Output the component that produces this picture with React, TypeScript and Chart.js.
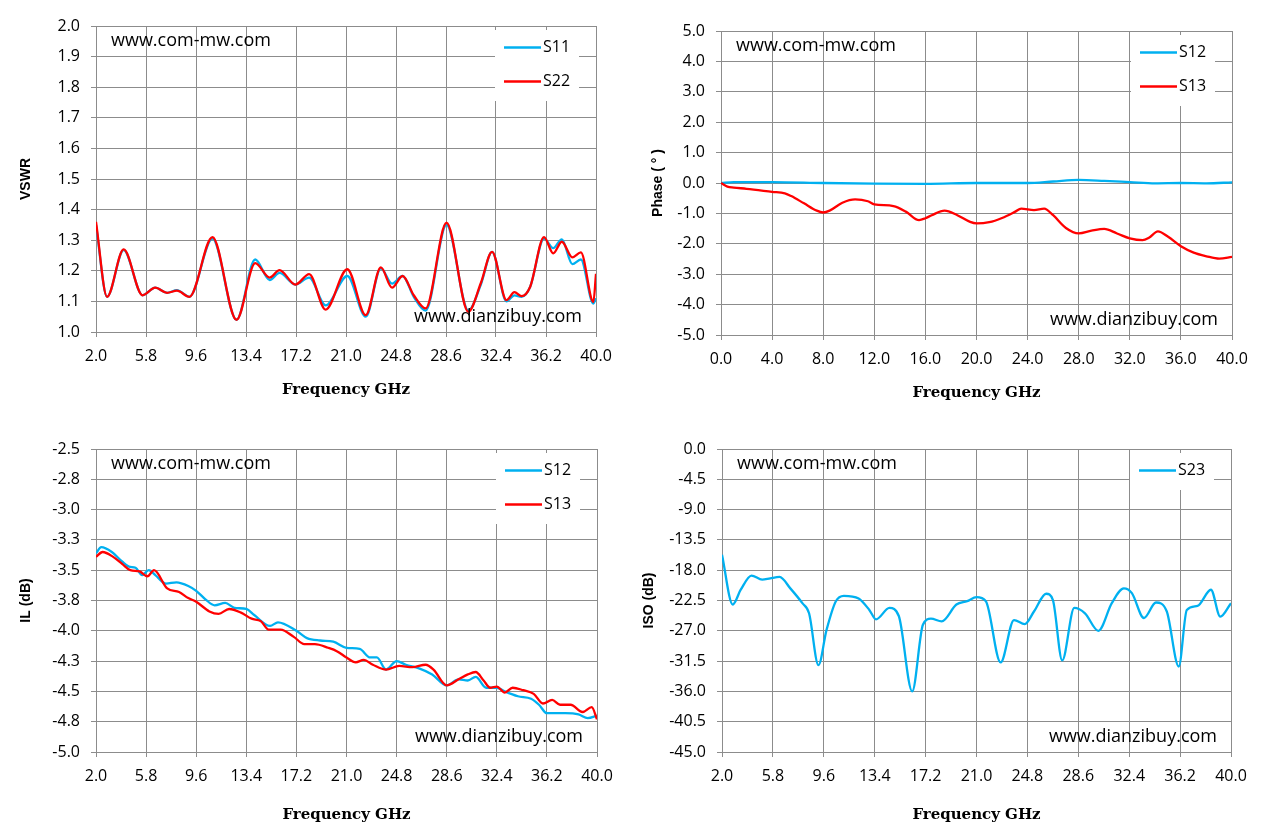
import { useEffect, useRef } from 'react';
import { Chart, registerables, ChartConfiguration, Plugin } from 'chart.js';

Chart.register(...registerables);

// ---- values ----
const FREQ_TICKS = [2.0, 5.8, 9.6, 13.4, 17.2, 21.0, 24.8, 28.6, 32.4, 36.2, 40.0];
const PHASE_FREQ_TICKS = [0, 4, 8, 12, 16, 20, 24, 28, 32, 36, 40];
const VSWR_TICKS = [1.0, 1.1, 1.2, 1.3, 1.4, 1.5, 1.6, 1.7, 1.8, 1.9, 2.0];
const PHASE_TICKS = [-5, -4, -3, -2, -1, 0, 1, 2, 3, 4, 5];
const IL_TICKS = [-5.0, -4.75, -4.5, -4.25, -4.0, -3.75, -3.5, -3.25, -3.0, -2.75, -2.5];
const ISO_TICKS = [-45, -40.5, -36, -31.5, -27, -22.5, -18, -13.5, -9, -4.5, 0];

// VSWR (S11 / S22)
const VSWR_FREQ = [2.0, 2.84, 4.1, 5.54, 6.5, 7.4, 8.15, 9.1, 10.85, 12.68, 14.1, 15.2, 15.95, 17.15, 18.2, 19.45, 21.1, 22.5, 23.65, 24.5, 25.3, 26.15, 27.05, 28.64, 30.3, 31.25, 32.1, 33.2, 33.8, 34.34, 35.0, 36.05, 36.75, 37.4, 38.2, 38.85, 39.8, 40.0];
const VSWR_S11 = [1.35, 1.115, 1.268, 1.12, 1.145, 1.128, 1.137, 1.115, 1.305, 1.04, 1.237, 1.17, 1.193, 1.155, 1.178, 1.087, 1.183, 1.05, 1.208, 1.158, 1.183, 1.115, 1.07, 1.35, 1.07, 1.155, 1.262, 1.1, 1.12, 1.115, 1.148, 1.305, 1.274, 1.303, 1.222, 1.237, 1.093, 1.11];
const VSWR_S22 = [1.36, 1.115, 1.27, 1.12, 1.145, 1.128, 1.135, 1.115, 1.31, 1.04, 1.225, 1.178, 1.202, 1.155, 1.189, 1.073, 1.205, 1.055, 1.211, 1.145, 1.183, 1.12, 1.077, 1.357, 1.066, 1.16, 1.262, 1.104, 1.13, 1.117, 1.148, 1.31, 1.257, 1.295, 1.244, 1.26, 1.098, 1.19];

// Phase (S12 / S13)
const PHASE_S12_FREQ = [0, 1, 4, 8, 12, 16, 20, 24, 26, 28, 30, 32, 34, 36, 38, 40];
const PHASE_S12 = [0, 0.03, 0.03, 0.0, -0.02, -0.03, 0.0, 0.0, 0.05, 0.1, 0.07, 0.03, -0.01, 0.0, -0.01, 0.02];
const PHASE_S13_FREQ = [0, 0.5, 1, 2, 4, 5, 5.5, 6.5, 7.5, 8.0, 8.5, 9.5, 10.5, 11.5, 12.0, 13.5, 14.5, 15.5, 16.0, 16.5, 17.5, 18.5, 19.5, 20.0, 21, 22, 23, 23.5, 24.5, 25.3, 26, 27, 28, 29, 30, 31, 32, 33, 33.5, 34.2, 35, 36, 37, 38, 39, 40];
const PHASE_S13 = [0, -0.12, -0.15, -0.19, -0.29, -0.34, -0.43, -0.67, -0.91, -0.97, -0.91, -0.65, -0.54, -0.6, -0.7, -0.76, -0.95, -1.22, -1.16, -1.06, -0.91, -1.06, -1.28, -1.33, -1.29, -1.15, -0.95, -0.84, -0.89, -0.84, -1.06, -1.48, -1.66, -1.57, -1.51, -1.66, -1.82, -1.88, -1.8, -1.59, -1.77, -2.08, -2.29, -2.41, -2.49, -2.43];

// Insertion loss (S12 / S13)
const IL_S12_FREQ = [2.0, 2.4, 3.2, 4.0, 4.5, 5.0, 5.5, 6.0, 6.5, 7.3, 8.1, 9.0, 9.6, 10.3, 11.0, 11.8, 12.5, 13.4, 14.0, 15.2, 15.8, 17.2, 18.0, 19.0, 20.0, 21.0, 22.0, 22.8, 23.3, 24.0, 24.8, 25.5, 26.5, 27.5, 28.6, 29.5, 30.2, 30.8, 31.6, 32.4, 33.0, 34.0, 35.0, 35.6, 36.2, 37.0, 37.6, 38.6, 39.3, 40.0];
const IL_S12 = [-3.36, -3.31, -3.35, -3.43, -3.47, -3.48, -3.54, -3.5, -3.54, -3.61, -3.6, -3.63, -3.67, -3.74, -3.79, -3.77, -3.81, -3.82, -3.87, -3.96, -3.93, -4.0, -4.06, -4.08, -4.09, -4.14, -4.15, -4.22, -4.22, -4.32, -4.25, -4.28, -4.31, -4.36, -4.45, -4.4, -4.41, -4.38, -4.47, -4.47, -4.5, -4.54, -4.56, -4.61, -4.68, -4.68, -4.68, -4.69, -4.72, -4.7];
const IL_S13_FREQ = [2.0, 2.5, 3.3, 4.0, 4.6, 5.3, 5.9, 6.4, 7.4, 8.3, 9.0, 9.6, 10.6, 11.3, 12.1, 13.0, 13.8, 14.5, 15.1, 16.0, 17.0, 17.8, 18.6, 19.6, 20.3, 21.0, 21.7, 22.3, 23.0, 24.0, 25.0, 26.0, 27.0, 27.6, 28.6, 29.5, 30.2, 30.8, 31.4, 31.9, 32.4, 33.0, 33.6, 34.4, 35.2, 35.9, 36.6, 37.2, 38.0, 38.9, 39.6, 40.0];
const IL_S13 = [-3.39, -3.35, -3.39, -3.45, -3.5, -3.51, -3.55, -3.5, -3.65, -3.68, -3.73, -3.76, -3.84, -3.86, -3.82, -3.85, -3.9, -3.92, -3.99, -3.99, -4.05, -4.11, -4.11, -4.14, -4.17, -4.22, -4.26, -4.24, -4.28, -4.32, -4.29, -4.3, -4.28, -4.32, -4.45, -4.4, -4.36, -4.34, -4.41, -4.47, -4.46, -4.51, -4.47, -4.49, -4.52, -4.6, -4.57, -4.61, -4.61, -4.67, -4.63, -4.73];

// Isolation (S23)
const ISO_FREQ = [2.0, 2.8, 3.4, 4.2, 5.0, 5.6, 6.3, 7.1, 8.0, 8.5, 9.2, 9.8, 10.5, 11.1, 12.2, 13.0, 13.5, 14.5, 15.2, 16.2, 17.0, 17.6, 18.4, 19.5, 20.3, 21.0, 21.7, 22.8, 23.8, 24.6, 25.3, 26.2, 26.7, 27.4, 28.3, 29.1, 30.1, 31.1, 32.0, 32.6, 33.5, 34.4, 35.2, 36.1, 36.7, 37.5, 38.5, 39.2, 40.0];
const ISO_S23 = [-15.7, -23.1, -20.9, -18.8, -19.4, -19.2, -19.0, -20.7, -22.9, -24.4, -32.1, -26.9, -22.6, -21.8, -22.2, -23.9, -25.3, -23.6, -24.8, -36.0, -26.1, -25.2, -25.6, -23.1, -22.6, -22.0, -22.6, -31.7, -25.4, -26.0, -24.1, -21.5, -22.4, -31.4, -23.6, -24.4, -27.0, -22.9, -20.7, -21.4, -25.1, -22.8, -24.1, -32.3, -23.9, -23.3, -20.9, -24.9, -22.9];

const WATERMARK_TOP = 'www.com-mw.com';
const WATERMARK_BOTTOM = 'www.dianzibuy.com';

const BLUE = '#00b0f0';
const RED = '#ff0000';
const GRID = '#8c8c8c';
const TEXT_FONT = '"Open Sans", "Noto Sans", sans-serif';

interface Series {
  label: string;
  freq: number[];
  values: number[];
  color: string;
  order: number;
}

interface PanelProps {
  left: number;
  top: number;
  width: number;
  height: number;
  pad: { left: number; top: number; right: number; bottom: number };
  yWidth: number;
  xHeight: number;
  xTicks: number[];
  yTicks: number[];
  yTitle: string;
  series: Series[];
}

// white legend box in the top right of the plot, like the Excel one
const legendBoxPlugin: Plugin<'line'> = {
  id: 'legendBox',
  afterDraw(chart) {
    const { ctx, chartArea } = chart;
    const sets = chart.data.datasets;
    ctx.save();
    ctx.fillStyle = '#fff';
    ctx.fillRect(chartArea.right - 101, chartArea.top + 4, 84, sets.length * 34 + 3);
    sets.forEach((ds, i) => {
      const cy = chartArea.top + 21.5 + i * 34;
      ctx.strokeStyle = ds.borderColor as string;
      ctx.lineWidth = 2.5;
      ctx.beginPath();
      ctx.moveTo(chartArea.right - 92, cy);
      ctx.lineTo(chartArea.right - 55, cy);
      ctx.stroke();
      ctx.fillStyle = '#000';
      ctx.font = `16px ${TEXT_FONT}`;
      ctx.textAlign = 'left';
      ctx.textBaseline = 'middle';
      ctx.fillText(ds.label ?? '', chartArea.right - 53, cy);
    });
    ctx.restore();
  },
};

const watermarkPlugin: Plugin<'line'> = {
  id: 'watermark',
  afterDraw(chart) {
    const { ctx, chartArea } = chart;
    ctx.save();
    ctx.fillStyle = '#000';
    ctx.font = `18px ${TEXT_FONT}`;
    ctx.textBaseline = 'middle';
    ctx.textAlign = 'left';
    ctx.fillText(WATERMARK_TOP, chartArea.left + 15, chartArea.top + 15);
    ctx.textAlign = 'right';
    ctx.fillText(WATERMARK_BOTTOM, chartArea.right - 14, chartArea.bottom - 15);
    ctx.restore();
  },
};

function Panel(props: PanelProps) {
  const canvasRef = useRef<HTMLCanvasElement>(null);

  useEffect(() => {
    if (!canvasRef.current) return;
    const { xTicks, yTicks } = props;

    const grid = { color: GRID, lineWidth: 1, tickLength: 5, tickColor: GRID, drawTicks: true };
    const tickFont = { family: TEXT_FONT, size: 16 };

    const config: ChartConfiguration<'line'> = {
      type: 'line',
      data: {
        datasets: props.series.map(s => ({
          label: s.label,
          data: s.freq.map((f, i) => ({ x: f, y: s.values[i] })),
          borderColor: s.color,
          backgroundColor: s.color,
          borderWidth: 2.3,
          pointRadius: 0,
          cubicInterpolationMode: 'monotone' as const,
          order: s.order,
        })),
      },
      options: {
        responsive: false,
        animation: false,
        layout: { padding: props.pad },
        plugins: {
          legend: { display: false },
          tooltip: { enabled: false },
        },
        scales: {
          x: {
            type: 'linear',
            min: xTicks[0],
            max: xTicks[xTicks.length - 1],
            afterBuildTicks: scale => {
              scale.ticks = xTicks.map(v => ({ value: v }));
            },
            afterFit: scale => {
              scale.height = props.xHeight;
            },
            grid,
            border: { color: GRID, width: 1 },
            ticks: {
              autoSkip: false,
              maxRotation: 0,
              padding: 10,
              color: '#000',
              font: tickFont,
              callback: v => Number(v).toFixed(1),
            },
            title: {
              display: true,
              text: 'Frequency GHz',
              color: '#000',
              padding: 0,
              font: { family: '"DejaVu Serif", serif', size: 15, weight: 'bold' },
            },
          },
          y: {
            type: 'linear',
            min: yTicks[0],
            max: yTicks[yTicks.length - 1],
            afterBuildTicks: scale => {
              scale.ticks = yTicks.map(v => ({ value: v }));
            },
            afterFit: scale => {
              scale.width = props.yWidth;
            },
            grid,
            border: { color: GRID, width: 1 },
            ticks: {
              autoSkip: false,
              padding: 11,
              color: '#000',
              font: tickFont,
              callback: v => Number(v).toFixed(1),
            },
            title: {
              display: true,
              text: props.yTitle,
              color: '#000',
              padding: 0,
              font: { family: '"Liberation Sans", Arial, sans-serif', size: 14, weight: 'bold' },
            },
          },
        },
      },
      plugins: [legendBoxPlugin, watermarkPlugin],
    };

    const chart = new Chart(canvasRef.current, config);
    return () => {
      chart.destroy();
    };
  }, []);

  return (
    <canvas
      ref={canvasRef}
      width={props.width}
      height={props.height}
      style={{ position: 'absolute', left: props.left, top: props.top, width: props.width, height: props.height }}
    />
  );
}

export default function App() {
  return (
    <div style={{ position: 'absolute', left: 0, top: 0, width: 1267, height: 837, background: '#fff' }}>
      <Panel
        left={0} top={0} width={630} height={410}
        pad={{ left: 18, top: 26, right: 34, bottom: 11 }}
        yWidth={78} xHeight={67}
        xTicks={FREQ_TICKS} yTicks={VSWR_TICKS}
        yTitle="VSWR"
        series={[
          { label: 'S11', freq: VSWR_FREQ, values: VSWR_S11, color: BLUE, order: 1 },
          { label: 'S22', freq: VSWR_FREQ, values: VSWR_S22, color: RED, order: 0 },
        ]}
      />
      <Panel
        left={630} top={0} width={637} height={410}
        pad={{ left: 20, top: 31, right: 35, bottom: 8 }}
        yWidth={71} xHeight={67}
        xTicks={PHASE_FREQ_TICKS} yTicks={PHASE_TICKS}
        yTitle="Phase ( ° )"
        series={[
          { label: 'S12', freq: PHASE_S12_FREQ, values: PHASE_S12, color: BLUE, order: 1 },
          { label: 'S13', freq: PHASE_S13_FREQ, values: PHASE_S13, color: RED, order: 0 },
        ]}
      />
      <Panel
        left={0} top={415} width={630} height={422}
        pad={{ left: 18, top: 34, right: 33, bottom: 13 }}
        yWidth={78} xHeight={72}
        xTicks={FREQ_TICKS} yTicks={IL_TICKS}
        yTitle="IL (dB)"
        series={[
          { label: 'S12', freq: IL_S12_FREQ, values: IL_S12, color: BLUE, order: 1 },
          { label: 'S13', freq: IL_S13_FREQ, values: IL_S13, color: RED, order: 0 },
        ]}
      />
      <Panel
        left={630} top={415} width={637} height={422}
        pad={{ left: 11, top: 34, right: 36, bottom: 13 }}
        yWidth={81} xHeight={72}
        xTicks={FREQ_TICKS} yTicks={ISO_TICKS}
        yTitle="ISO (dB)"
        series={[
          { label: 'S23', freq: ISO_FREQ, values: ISO_S23, color: BLUE, order: 0 },
        ]}
      />
    </div>
  );
}
